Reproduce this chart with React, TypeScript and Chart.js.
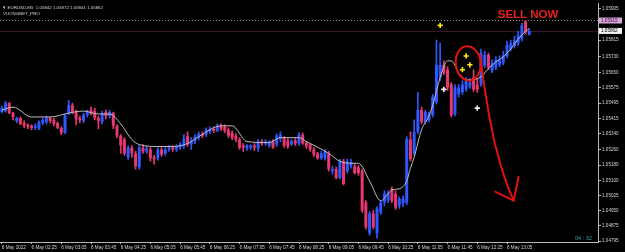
import React, { useEffect, useRef } from 'react';
import { Chart, registerables } from 'chart.js';

Chart.register(...registerables);

// ---------- data ----------
const SLOT_COUNT = 161; // bar slots on the time axis (incl. chart shift space)
const X_TICK_EVERY = 8; // one time label every 8 bars (40 min on M5)
const X_TICK_LABELS = [
  '6 May 2022', '6 May 02:25', '6 May 03:05', '6 May 03:45', '6 May 04:25', '6 May 05:05',
  '6 May 05:45', '6 May 06:25', '6 May 07:05', '6 May 07:45', '6 May 08:25', '6 May 09:05',
  '6 May 09:45', '6 May 10:25', '6 May 11:05', '6 May 11:45', '6 May 12:25', '6 May 13:05',
];
const Y_TICK_LABELS = [
  '1.05905', '1.05815', '1.05730', '1.05650', '1.05575', '1.05495', '1.05415', '1.05340',
  '1.05260', '1.05180', '1.05100', '1.05025', '1.04950', '1.04875', '1.04795',
];
const Y_TICK_VALUES = [
  1.05975, 1.05815, 1.0573, 1.0565, 1.05575, 1.05495, 1.05415, 1.0534,
  1.0526, 1.0518, 1.051, 1.05025, 1.0495, 1.04875, 1.04795,
];
const Y_MIN = 1.0479;
const Y_MAX = 1.06;

const OPEN = [
  1.05450,1.05455,1.05495,1.05445,1.05405,1.05420,1.05395,1.05385,1.05380,1.05370,
  1.05365,1.05395,1.05400,1.05420,1.05410,1.05395,1.05370,1.05345,1.05440,1.05485,
  1.05450,1.05420,1.05405,1.05435,1.05460,1.05455,1.05420,1.05400,1.05450,1.05430,
  1.05445,1.05380,1.05330,1.05310,1.05220,1.05270,1.05240,1.05170,1.05270,1.05250,
  1.05260,1.05220,1.05215,1.05260,1.05240,1.05260,1.05270,1.05260,1.05270,1.05275,
  1.05330,1.05285,1.05300,1.05320,1.05340,1.05335,1.05350,1.05365,1.05355,1.05380,
  1.05375,1.05360,1.05345,1.05330,1.05310,1.05280,1.05265,1.05270,1.05280,1.05265,
  1.05300,1.05290,1.05280,1.05300,1.05285,1.05315,1.05320,1.05305,1.05285,1.05305,
  1.05290,1.05335,1.05295,1.05285,1.05260,1.05240,1.05215,1.05215,1.05240,1.05150,
  1.05160,1.05115,1.05200,1.05150,1.05175,1.05175,1.05170,1.05150,1.04990,1.04835,
  1.04935,1.04835,1.04940,1.04990,1.05000,1.05060,1.05035,1.04975,1.04985,1.04990,
  1.05310,1.05240,1.05350,1.05460,1.05400,1.05410,1.05435,1.05500,1.05625,1.05690,
  1.05665,1.05590,1.05440,1.05540,1.05550,1.05565,1.05580,1.05625,1.05590,1.05590,
  1.05685,1.05740,1.05660,1.05675,1.05690,1.05700,1.05735,1.05770,1.05785,1.05800,
  1.05820,1.05910,1.05842,
];
const CLOSE = [
  1.05470,1.05495,1.05445,1.05425,1.05420,1.05390,1.05380,1.05375,1.05370,1.05380,
  1.05400,1.05410,1.05420,1.05405,1.05390,1.05370,1.05345,1.05435,1.05485,1.05450,
  1.05415,1.05410,1.05435,1.05450,1.05440,1.05420,1.05405,1.05445,1.05430,1.05450,
  1.05380,1.05330,1.05280,1.05240,1.05270,1.05240,1.05175,1.05270,1.05250,1.05265,
  1.05215,1.05210,1.05260,1.05235,1.05260,1.05270,1.05260,1.05275,1.05285,1.05315,
  1.05285,1.05305,1.05325,1.05340,1.05330,1.05360,1.05365,1.05355,1.05380,1.05365,
  1.05355,1.05330,1.05320,1.05310,1.05270,1.05270,1.05280,1.05280,1.05270,1.05300,
  1.05290,1.05300,1.05300,1.05270,1.05330,1.05335,1.05280,1.05275,1.05300,1.05290,
  1.05335,1.05290,1.05275,1.05260,1.05235,1.05215,1.05240,1.05250,1.05160,1.05160,
  1.05115,1.05200,1.05085,1.05200,1.05195,1.05140,1.05140,1.04950,1.04865,1.04935,
  1.04865,1.04960,1.04990,1.05035,1.05040,1.05000,1.04965,1.05010,1.05010,1.05315,
  1.05210,1.05350,1.05460,1.05400,1.05450,1.05440,1.05525,1.05690,1.05690,1.05650,
  1.05575,1.05435,1.05575,1.05575,1.05590,1.05610,1.05600,1.05565,1.05565,1.05750,
  1.05740,1.05675,1.05700,1.05715,1.05715,1.05740,1.05790,1.05800,1.05815,1.05840,
  1.05890,1.05855,1.05862,
];
const HIGH = [
  1.05480,1.05505,1.05500,1.05450,1.05425,1.05425,1.05405,1.05390,1.05385,1.05390,
  1.05405,1.05420,1.05430,1.05425,1.05420,1.05400,1.05375,1.05440,1.05510,1.05495,
  1.05460,1.05430,1.05445,1.05460,1.05475,1.05470,1.05430,1.05455,1.05460,1.05460,
  1.05450,1.05385,1.05335,1.05320,1.05280,1.05280,1.05250,1.05280,1.05285,1.05275,
  1.05270,1.05230,1.05270,1.05270,1.05270,1.05280,1.05280,1.05285,1.05295,1.05335,
  1.05350,1.05320,1.05335,1.05350,1.05350,1.05370,1.05375,1.05375,1.05390,1.05390,
  1.05385,1.05370,1.05355,1.05340,1.05320,1.05290,1.05285,1.05285,1.05290,1.05310,
  1.05310,1.05310,1.05305,1.05310,1.05340,1.05350,1.05325,1.05315,1.05310,1.05315,
  1.05345,1.05345,1.05300,1.05290,1.05270,1.05245,1.05250,1.05260,1.05250,1.05175,
  1.05170,1.05210,1.05210,1.05210,1.05210,1.05185,1.05180,1.05160,1.05000,1.04945,
  1.04950,1.04970,1.05000,1.05050,1.05050,1.05070,1.05050,1.05020,1.05025,1.05325,
  1.05350,1.05410,1.05550,1.05475,1.05460,1.05450,1.05540,1.05815,1.05800,1.05710,
  1.05680,1.05600,1.05590,1.05590,1.05610,1.05625,1.05620,1.05665,1.05620,1.05770,
  1.05760,1.05750,1.05715,1.05730,1.05735,1.05760,1.05810,1.05815,1.05835,1.05860,
  1.05900,1.05915,1.05872,
];
const LOW = [
  1.05445,1.05450,1.05440,1.05410,1.05395,1.05385,1.05370,1.05365,1.05360,1.05360,
  1.05360,1.05385,1.05390,1.05395,1.05380,1.05365,1.05335,1.05340,1.05435,1.05440,
  1.05385,1.05395,1.05395,1.05425,1.05435,1.05410,1.05365,1.05390,1.05415,1.05420,
  1.05365,1.05320,1.05240,1.05230,1.05210,1.05220,1.05160,1.05160,1.05240,1.05240,
  1.05200,1.05185,1.05205,1.05225,1.05230,1.05250,1.05250,1.05250,1.05260,1.05265,
  1.05275,1.05260,1.05290,1.05310,1.05320,1.05325,1.05340,1.05345,1.05350,1.05355,
  1.05345,1.05320,1.05310,1.05300,1.05260,1.05250,1.05255,1.05260,1.05255,1.05250,
  1.05280,1.05280,1.05270,1.05265,1.05275,1.05300,1.05270,1.05265,1.05280,1.05280,
  1.05280,1.05285,1.05265,1.05250,1.05225,1.05210,1.05210,1.05205,1.05150,1.05135,
  1.05110,1.05110,1.05080,1.05140,1.05165,1.05135,1.05130,1.04940,1.04855,1.04825,
  1.04855,1.04810,1.04930,1.04975,1.04990,1.04990,1.04955,1.04960,1.04970,1.04980,
  1.05200,1.05230,1.05340,1.05390,1.05390,1.05400,1.05425,1.05490,1.05610,1.05640,
  1.05560,1.05425,1.05430,1.05525,1.05540,1.05555,1.05570,1.05555,1.05550,1.05580,
  1.05675,1.05665,1.05650,1.05665,1.05680,1.05690,1.05725,1.05760,1.05775,1.05790,
  1.05810,1.05845,1.05841,
];

const MA_INDEX = [
  0,3,8,13,18,22,26,29,32,35,37,42,46,50,53,59,62,66,72,75,80,82,88,91,94,96,99,102,104,105,
  107,109,110,111,113,115,116,118,120,121,123,125,127,129,131,133,135,137,139,141,142,
];
const MA_VALUE = [
  1.05460,1.05475,1.05425,1.05425,1.05445,1.05455,1.05440,1.05440,1.05390,1.05310,
  1.05285,1.05275,1.05275,1.05290,1.05325,1.05380,1.05380,1.05300,1.05295,1.05320,
  1.05320,1.05300,1.05240,1.05200,1.05190,1.05190,1.05100,1.05000,1.05035,1.05055,
  1.05060,1.05100,1.05165,1.05220,1.05360,1.05430,1.05485,1.05625,1.05710,1.05710,
  1.05650,1.05615,1.05615,1.05630,1.05670,1.05705,1.05730,1.05770,1.05820,1.05860,
  1.05875,
];

const SELL_SIGNAL_INDEX = [118, 124, 125, 126];
const SELL_SIGNAL_PRICE = [1.0589, 1.05665, 1.05735, 1.0569];
const BUY_SIGNAL_INDEX = [119, 128];
const BUY_SIGNAL_PRICE = [1.05565, 1.0547];

const HIGH_LINE_PRICE = 1.05915;
const HIGH_LINE_LABEL = '1.05915';
const BID_PRICE = 1.05862;
const BID_LABEL = '1.05862';

// hand-drawn annotation (in bar index / price units)
const CIRCLE_INDEX = [122.2, 128.9];
const CIRCLE_PRICE = [1.05785, 1.0561];
const ARROW_INDEX = [128.7, 129.9, 131.2, 132.6, 134.3, 136.0, 137.8];
const ARROW_PRICE = [1.0574, 1.0558, 1.0543, 1.0530, 1.0518, 1.0508, 1.0500];
const ARROW_HEAD_INDEX = [132.9, 137.8, 139.1];
const ARROW_HEAD_PRICE = [1.05045, 1.05, 1.0512];
const SELL_TEXT = 'SELL NOW';
const SELL_TEXT_INDEX = 133.5;
const SELL_TEXT_PRICE = 1.05945;

const HEADER_LINE_1 = '\u25BC EURUSD,M5  1.05842 1.05872 1.05841 1.05862';
const HEADER_LINE_2 = 'VUONGNET_PRO';
const TIMER_TEXT = '04 : 32';

// ---------- styles ----------
const BULL = '#2f58ff';
const BEAR = '#e8386f';
const AXIS = '#b8b8b8';
const TEXT = '#d4d4d4';
const FONT = '"Liberation Sans", Arial, sans-serif';

const overlay = {
  id: 'mt4overlay',
  beforeDraw(chart: any) {
    const { ctx, width, height } = chart;
    ctx.save();
    ctx.fillStyle = '#000';
    ctx.fillRect(0, 0, width, height);
    ctx.restore();
  },
  beforeDatasetsDraw(chart: any) {
    const { ctx, chartArea: a, scales } = chart;
    const yH = Math.round(scales.y.getPixelForValue(HIGH_LINE_PRICE)) + 0.5;
    const yB = Math.round(scales.y.getPixelForValue(BID_PRICE)) + 0.5;
    ctx.save();
    ctx.lineWidth = 1;
    ctx.setLineDash([1, 2]);
    ctx.strokeStyle = '#8c8c8c';
    ctx.beginPath();
    ctx.moveTo(a.left, yH);
    ctx.lineTo(a.right, yH);
    ctx.stroke();
    ctx.setLineDash([]);
    ctx.strokeStyle = 'rgba(120,40,60,0.5)';
    ctx.beginPath();
    ctx.moveTo(a.left, yB);
    ctx.lineTo(a.right, yB);
    ctx.stroke();
    ctx.restore();
  },
  afterDatasetsDraw(chart: any) {
    const { ctx, scales } = chart;
    const X = (v: number) => scales.x.getPixelForValue(v);
    const Y = (v: number) => scales.y.getPixelForValue(v);
    ctx.save();
    ctx.strokeStyle = '#e3120f';
    ctx.lineWidth = 2;
    ctx.lineJoin = 'round';
    ctx.lineCap = 'round';
    const x0 = X(CIRCLE_INDEX[0]);
    const x1 = X(CIRCLE_INDEX[1]);
    const y0 = Y(CIRCLE_PRICE[0]);
    const y1 = Y(CIRCLE_PRICE[1]);
    ctx.beginPath();
    ctx.ellipse((x0 + x1) / 2, (y0 + y1) / 2, (x1 - x0) / 2, (y1 - y0) / 2, -0.12, 0, Math.PI * 2);
    ctx.stroke();
    ctx.beginPath();
    ARROW_INDEX.forEach((ix, k) => {
      const px = X(ix);
      const py = Y(ARROW_PRICE[k]);
      if (k === 0) ctx.moveTo(px, py);
      else ctx.lineTo(px, py);
    });
    ctx.stroke();
    ctx.beginPath();
    ARROW_HEAD_INDEX.forEach((ix, k) => {
      const px = X(ix);
      const py = Y(ARROW_HEAD_PRICE[k]);
      if (k === 0) ctx.moveTo(px, py);
      else ctx.lineTo(px, py);
    });
    ctx.stroke();
    ctx.fillStyle = '#e8201c';
    ctx.font = `bold 11.5px ${FONT}`;
    ctx.textAlign = 'left';
    ctx.textBaseline = 'middle';
    ctx.fillText(SELL_TEXT, X(SELL_TEXT_INDEX), Y(SELL_TEXT_PRICE));
    ctx.restore();
  },
  afterDraw(chart: any) {
    const { ctx, chartArea: a, scales, width } = chart;
    ctx.save();
    ctx.fillStyle = TEXT;
    ctx.font = `4.4px ${FONT}`;
    ctx.textAlign = 'left';
    ctx.textBaseline = 'middle';
    ctx.fillText(HEADER_LINE_1, a.left + 2, a.top + 4);
    ctx.fillText(HEADER_LINE_2, a.left + 3, a.top + 10);
    ctx.fillStyle = '#2aa7a8';
    ctx.font = `5.5px ${FONT}`;
    ctx.fillText(TIMER_TEXT, a.right - 23, a.bottom - 4);
    const boxes = [
      { p: HIGH_LINE_PRICE, t: HIGH_LINE_LABEL, bg: '#dba6dc', fg: '#3a0a3a' },
      { p: BID_PRICE, t: BID_LABEL, bg: '#f2f2f2', fg: '#000' },
    ];
    ctx.font = `4.6px ${FONT}`;
    boxes.forEach((b) => {
      const y = scales.y.getPixelForValue(b.p);
      ctx.fillStyle = b.bg;
      ctx.fillRect(a.right + 1, y - 3, width - a.right - 4, 6);
      ctx.fillStyle = b.fg;
      ctx.fillText(b.t, a.right + 3, y);
    });
    ctx.restore();
  },
};

export default function App() {
  const ref = useRef<HTMLCanvasElement | null>(null);

  useEffect(() => {
    if (!ref.current) return;
    const slots = Array.from({ length: SLOT_COUNT }, (_, i) => i);
    const barColors = OPEN.map((o, i) => (CLOSE[i] >= o ? BULL : BEAR));

    const chart = new Chart(ref.current, {
      type: 'bar',
      data: {
        labels: slots,
        datasets: [
          {
            type: 'line',
            label: 'sell',
            data: SELL_SIGNAL_INDEX.map((x, k) => ({ x, y: SELL_SIGNAL_PRICE[k] })),
            showLine: false,
            pointStyle: 'cross',
            pointRadius: 2.6,
            pointBorderWidth: 1.6,
            borderColor: '#ffe81a',
            backgroundColor: '#ffe81a',
            order: 0,
          } as any,
          {
            type: 'line',
            label: 'buy',
            data: BUY_SIGNAL_INDEX.map((x, k) => ({ x, y: BUY_SIGNAL_PRICE[k] })),
            showLine: false,
            pointStyle: 'cross',
            pointRadius: 2.6,
            pointBorderWidth: 1.6,
            borderColor: '#f4f4f4',
            backgroundColor: '#f4f4f4',
            order: 0,
          } as any,
          {
            type: 'line',
            label: 'MA',
            data: MA_INDEX.map((x, k) => ({ x, y: MA_VALUE[k] })),
            borderColor: '#bdbdbd',
            borderWidth: 1,
            pointRadius: 0,
            cubicInterpolationMode: 'monotone',
            order: 1,
          } as any,
          {
            type: 'bar',
            label: 'body',
            data: OPEN.map((o, i) => [o, CLOSE[i]]),
            backgroundColor: barColors,
            borderWidth: 0,
            grouped: false,
            barPercentage: 0.8,
            categoryPercentage: 1,
            order: 2,
          } as any,
          {
            type: 'bar',
            label: 'wick',
            data: LOW.map((l, i) => [l, HIGH[i]]),
            backgroundColor: barColors,
            borderWidth: 0,
            grouped: false,
            barThickness: 1,
            order: 3,
          } as any,
        ],
      },
      options: {
        animation: false,
        responsive: false,
        devicePixelRatio: 1,
        layout: { padding: 0, autoPadding: false },
        plugins: { legend: { display: false }, tooltip: { enabled: false } },
        scales: {
          x: {
            type: 'category',
            offset: true,
            grid: { display: true, drawOnChartArea: false, drawTicks: true, tickLength: 2, color: AXIS, offset: false },
            border: { display: true, color: AXIS },
            ticks: {
              color: TEXT,
              font: { size: 4.6, family: FONT },
              align: 'start',
              maxRotation: 0,
              minRotation: 0,
              autoSkip: false,
              padding: 1,
              callback: (_v: any, i: number) => X_TICK_LABELS[i] ?? '',
            },
            afterBuildTicks: (s: any) => {
              s.ticks = X_TICK_LABELS.map((_, k) => ({ value: k * X_TICK_EVERY }));
            },
            afterFit: (s: any) => {
              s.height = 10;
            },
          } as any,
          y: {
            type: 'linear',
            position: 'right',
            min: Y_MIN,
            max: Y_MAX,
            grid: { display: true, drawOnChartArea: false, drawTicks: true, tickLength: 3, color: AXIS },
            border: { display: true, color: AXIS },
            ticks: {
              color: TEXT,
              font: { size: 4.6, family: FONT },
              padding: 1,
              callback: (_v: any, i: number) => Y_TICK_LABELS[i] ?? '',
            },
            afterBuildTicks: (s: any) => {
              s.ticks = Y_TICK_VALUES.map((v) => ({ value: v }));
            },
            afterFit: (s: any) => {
              s.width = 27;
            },
          } as any,
        },
      } as any,
      plugins: [overlay],
    });
    return () => chart.destroy();
  }, []);

  return (
    <div style={{ position: 'fixed', left: 0, top: 0, width: 625, height: 252, background: '#000' }}>
      <canvas ref={ref} width={625} height={252} style={{ display: 'block', width: 625, height: 252 }} />
    </div>
  );
}
